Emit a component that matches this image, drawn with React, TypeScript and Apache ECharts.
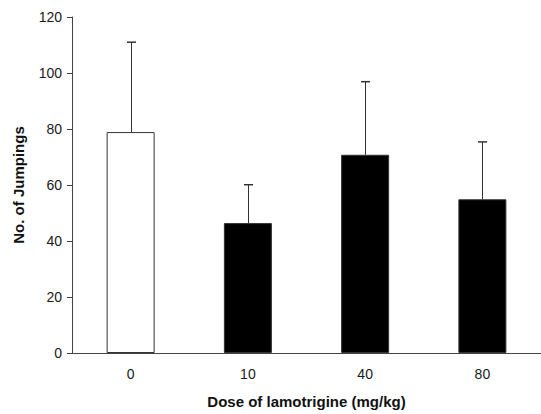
import React, { useEffect, useRef } from "react";
import * as echarts from "echarts";

const categories = ["0", "10", "40", "80"];
const means = [78.9, 46.4, 70.8, 54.9];
const errorTops = [111, 60.1, 96.9, 75.4];
const barFills = ["#ffffff", "#000000", "#000000", "#000000"];
const yTicks = { min: 0, max: 120, interval: 20 };

export default function App() {
  const ref = useRef<HTMLDivElement>(null);
  useEffect(() => {
    const chart = echarts.init(ref.current!, undefined, { renderer: "svg" });
    const font = "'Liberation Sans', Arial, sans-serif";
    chart.setOption({
      animation: false,
      backgroundColor: "#ffffff",
      grid: { left: 72, top: 17, width: 473, height: 336, containLabel: false },
      xAxis: {
        type: "category",
        data: categories,
        axisLine: { lineStyle: { color: "#444", width: 1 } },
        axisTick: { show: false },
        axisLabel: { color: "#1a1a1a", fontSize: 14, fontFamily: font, margin: 14 },
        name: "Dose of lamotrigine (mg/kg)",
        nameLocation: "middle",
        nameGap: 41,
        nameTextStyle: { color: "#111", fontSize: 15, fontWeight: "bold", fontFamily: font },
      },
      yAxis: {
        type: "value",
        min: yTicks.min,
        max: yTicks.max,
        interval: yTicks.interval,
        splitLine: { show: false },
        axisLine: { show: true, lineStyle: { color: "#444", width: 1 } },
        axisTick: { show: true, length: 5, lineStyle: { color: "#444" } },
        axisLabel: { color: "#1a1a1a", fontSize: 14, fontFamily: font, margin: 10 },
        name: "No. of Jumpings",
        nameLocation: "middle",
        nameGap: 46,
        nameRotate: 90,
        nameTextStyle: { color: "#111", fontSize: 15, fontWeight: "bold", fontFamily: font },
      },
      series: [
        {
          type: "bar",
          barWidth: 48,
          data: means.map((v, i) => ({
            value: v,
            itemStyle: { color: barFills[i], borderColor: "#333", borderWidth: 1 },
          })),
          z: 2,
        },
        {
          type: "custom",
          z: 3,
          data: means.map((v, i) => [i, v, errorTops[i]]),
          renderItem: (params: any, api: any) => {
            const base = api.coord([api.value(0), api.value(1)]);
            const top = api.coord([api.value(0), api.value(2)]);
            const x = Math.round(base[0]) + 0.5;
            const half = 4.5;
            return {
              type: "group",
              children: [
                { type: "line", shape: { x1: x, y1: base[1], x2: x, y2: top[1] }, style: { stroke: "#333", lineWidth: 1 } },
                { type: "line", shape: { x1: x - half, y1: top[1], x2: x + half, y2: top[1] }, style: { stroke: "#333", lineWidth: 1.5 } },
              ],
            };
          },
        },
      ],
    });
    return () => chart.dispose();
  }, []);
  return <div ref={ref} style={{ width: 541, height: 414, position: "absolute", left: 0, top: 0 }} />;
}
